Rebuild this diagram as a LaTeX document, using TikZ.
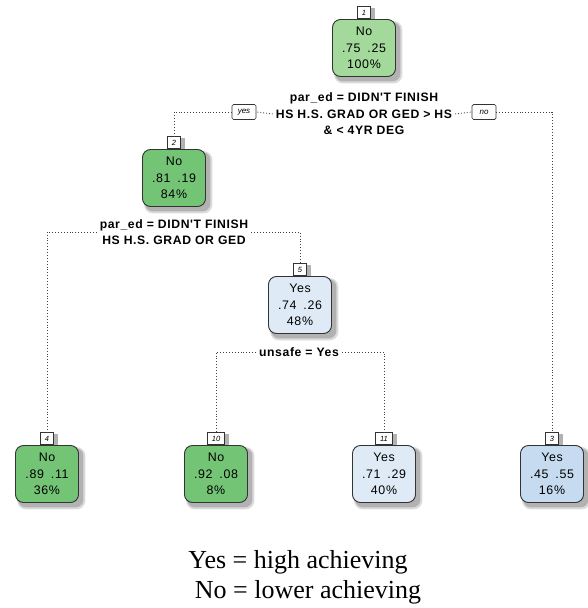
\documentclass[tikz,border=0pt]{standalone}
\usepackage{fontspec}
\setmainfont{Liberation Serif}
\newfontfamily\nodefont[LetterSpace=5]{Liberation Sans}
\newfontfamily\tagfont{Liberation Sans}
\usetikzlibrary{backgrounds}
\definecolor{gA}{HTML}{A3D99B}
\definecolor{gB}{HTML}{74C476}
\definecolor{bA}{HTML}{DEEBF7}
\definecolor{bB}{HTML}{C6DBEF}
\definecolor{edge}{HTML}{333333}
\tikzset{
  treenode/.style={draw=edge, line width=0.9pt, rounded corners=8pt,
    minimum width=63pt, minimum height=57pt, inner sep=0pt, align=center,
    font=\nodefont\fontsize{12.4}{16.5}\selectfont},
  tagbox/.style={draw=edge, fill=white, line width=0.7pt, minimum width=13pt, minimum height=12pt,
    inner sep=1.5pt, font=\tagfont\itshape\fontsize{7.5}{8}\selectfont},
  split/.style={align=center, inner sep=3pt, font=\nodefont\bfseries\fontsize{12.2}{16.5}\selectfont},
  yesno/.style={draw=edge, fill=white, line width=0.7pt, rounded corners=1.5pt, minimum width=24pt,
    minimum height=15pt, inner sep=1pt, font=\tagfont\itshape\fontsize{8}{9}\selectfont},
  conn/.style={dotted, line width=0.9pt, draw=black!75},
  legend/.style={font=\fontsize{26}{28}\selectfont, inner sep=0pt},
  shadA/.style={fill=black!14},
  shadB/.style={fill=black!30},
}
\begin{document}
\begin{tikzpicture}[x=1pt,y=-1pt]
\useasboundingbox (0,0) rectangle (587,608);
% tree nodes
\node[treenode, fill=gA] (n1) at (364,48) {No\\.75\hspace{7pt}.25\\100\%};
\node[treenode, fill=gB] (n2) at (174,178) {No\\.81\hspace{7pt}.19\\84\%};
\node[treenode, fill=bA] (n5) at (300,305) {Yes\\.74\hspace{7pt}.26\\48\%};
\node[treenode, fill=gB] (n4) at (47,474) {No\\.89\hspace{7pt}.11\\36\%};
\node[treenode, fill=gB] (n10) at (216,474) {No\\.92\hspace{7pt}.08\\8\%};
\node[treenode, fill=bA] (n11) at (384,474) {Yes\\.71\hspace{7pt}.29\\40\%};
\node[treenode, fill=bB] (n3) at (552,474) {Yes\\.45\hspace{7pt}.55\\16\%};
% tags
\node[tagbox, anchor=south] (t1) at (n1.north) {1};
\node[tagbox, anchor=south] (t2) at (n2.north) {2};
\node[tagbox, anchor=south] (t5) at (n5.north) {5};
\node[tagbox, anchor=south] (t4) at (n4.north) {4};
\node[tagbox, anchor=south, minimum width=17pt] (t10) at (n10.north) {10};
\node[tagbox, anchor=south, minimum width=17pt] (t11) at (n11.north) {11};
\node[tagbox, anchor=south] (t3) at (n3.north) {3};
% shadows
\begin{scope}[on background layer]
\foreach \n in {n1,n2,n5,n4,n10,n11,n3}{
  \fill[shadA, rounded corners=9pt] ([shift={(2,2)}]\n.north west) rectangle ([shift={(6.5,6.5)}]\n.south east);
  \fill[shadB, rounded corners=8pt] ([shift={(3,3)}]\n.north west) rectangle ([shift={(4.5,4.5)}]\n.south east);
}
\foreach \t in {t1,t2,t5,t4,t10,t11,t3}{
  \fill[shadB] ([shift={(3,2)}]\t.north west) rectangle ([shift={(4,2)}]\t.south east);
}
\end{scope}
% split labels
\node[split] (s1) at (364,114) {par\_ed = DIDN'T FINISH\\HS H.S. GRAD OR GED > HS\\\& < 4YR DEG};
\node[split] (s2) at (174,232) {par\_ed = DIDN'T FINISH\\HS H.S. GRAD OR GED};
\node[split] (s5) at (299,352) {unsafe = Yes};
\node[yesno] (yes) at (244,112) {yes};
\node[yesno] (no) at (484,112) {no};
% connectors
\draw[conn] (s1.west) -- (yes.east);
\draw[conn] (yes.west) -| (t2.north);
\draw[conn] (s1.east) -- (no.west);
\draw[conn] (no.east) -| (t3.north);
\draw[conn] (s2.west) -| (t4.north);
\draw[conn] (s2.east) -| (t5.north);
\draw[conn] (s5.west) -| (t10.north);
\draw[conn] (s5.east) -| (t11.north);
% legend
\node[legend] (leg1) at (298,562) {Yes = high achieving};
\node[legend] (leg2) at (308,592) {No = lower achieving};
\end{tikzpicture}
\end{document}
